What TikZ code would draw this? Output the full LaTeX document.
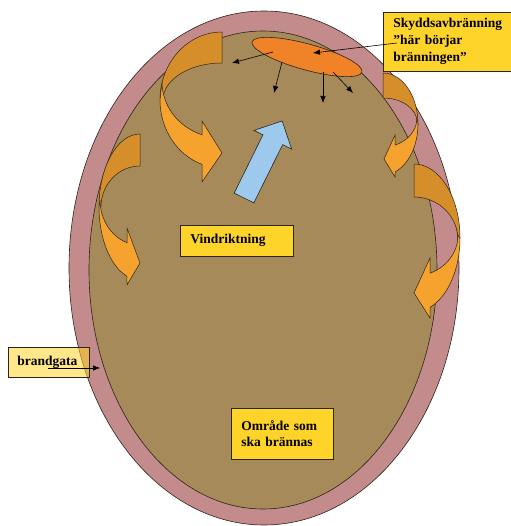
\documentclass[tikz,border=0pt]{standalone}
\usepackage{fontspec}
\setmainfont{Liberation Serif}
\usetikzlibrary{arrows.meta,shapes.geometric}
\definecolor{kant}{HTML}{C48B8D}
\definecolor{markyta}{HTML}{A68A5A}
\definecolor{glod}{HTML}{F08228}
\definecolor{gul}{HTML}{FFD42A}
\definecolor{eldmork}{HTML}{D68E2A}
\definecolor{eldljus}{HTML}{F5A22F}
\definecolor{vind}{HTML}{9DC9ED}
\definecolor{linje}{HTML}{2B2418}

\begin{document}
\begin{tikzpicture}[x=1pt, y=-1pt, >={Latex[length=7pt,width=5.5pt]},
  lbl/.style={draw=linje, line width=0.6pt, fill=gul, anchor=north west,
    align=left, inner ysep=0pt, font=\fontsize{13.5}{17}\selectfont\bfseries},
  pil/.style={->, draw=black, line width=0.6pt},
  eldbak/.style={fill=eldmork, draw=linje, line width=0.5pt},
  eldfram/.style={fill=eldljus, draw=linje, line width=0.5pt}]
  \useasboundingbox (0,0) rectangle (510,526);

  % Brandgata och ytan som ska brannas
  \filldraw[fill=kant, draw=linje, line width=0.6pt] (264,268) ellipse (195 and 257);
  \filldraw[fill=markyta, draw=linje, line width=0.6pt] (263,270) ellipse (174 and 239);

  % Skyddsavbranning -- orange ellips
  \node[ellipse, draw=linje, line width=0.6pt, fill=glod, minimum width=114pt,
    minimum height=26pt, inner sep=0pt, rotate=-15.4] (glod) at (307,57) {};

  % Pilar ut fran skyddsavbranningen
  \coordinate (g1) at (273,52);  \coordinate (p1) at (232,63);
  \coordinate (g2) at (282,62);  \coordinate (p2) at (274,93);
  \coordinate (g3) at (323,72);  \coordinate (p3) at (323,103);
  \coordinate (g4) at (333,72);  \coordinate (p4) at (353,93);
  \draw[pil] (g1) -- (p1);
  \draw[pil] (g2) -- (p2);
  \draw[pil] (g3) -- (p3);
  \draw[pil] (g4) -- (p4);

  % Vindriktning -- bla pil
  \filldraw[fill=vind, draw=linje, line width=0.6pt, shift={(244,198)}, rotate=63.7]
    (0,-11) -- (65,-11) -- (65,-21) -- (86,0) -- (65,21) -- (65,11) -- (0,11) -- cycle;

  % Flammor, uppe till vanster
  \path[eldbak] (222,32) arc[start angle=270, end angle=180, x radius=62, y radius=68]
    -- (163,100) arc[start angle=180, end angle=270, x radius=59, y radius=37] -- cycle;
  \path[eldfram] (160,100) arc[start angle=180, end angle=108.8, x radius=62, y radius=68]
    -- (202,182) -- (222,153) -- (202,121)
    -- (202,134.8) arc[start angle=109.5, end angle=180, x radius=60, y radius=56] -- cycle;

  % Flammor, till vanster
  \path[eldbak] (140,134) arc[start angle=270, end angle=180, x radius=41, y radius=73]
    -- (101,207) arc[start angle=180, end angle=270, x radius=39, y radius=41] -- cycle;
  \path[eldfram] (99,207) arc[start angle=180, end angle=108.5, x radius=41, y radius=73]
    -- (127,285) -- (140,263) -- (127,228)
    -- (127,242.6) arc[start angle=109, end angle=180, x radius=40, y radius=45] -- cycle;

  % Flammor, uppe till hoger
  \path[eldbak] (383,73) arc[start angle=270, end angle=360, x radius=35, y radius=51]
    -- (417,122) arc[start angle=0, end angle=-90, x radius=34, y radius=24] -- cycle;
  \path[eldfram] (418,124) arc[start angle=0, end angle=69.9, x radius=35, y radius=51]
    -- (395,177) -- (384,159) -- (395,135)
    -- (395,145.1) arc[start angle=69.3, end angle=0, x radius=34, y radius=29] -- cycle;

  % Flammor, till hoger
  \path[eldbak] (414,164) arc[start angle=270, end angle=360, x radius=46, y radius=74]
    -- (458,240) arc[start angle=0, end angle=-90, x radius=44, y radius=43] -- cycle;
  \path[eldfram] (460,238) arc[start angle=0, end angle=69.6, x radius=46, y radius=74]
    -- (430,318) -- (414,293) -- (430,258)
    -- (430,273.2) arc[start angle=68.7, end angle=0, x radius=44, y radius=41] -- cycle;

  % Etiketter
  \node[lbl, text width=108pt, inner xsep=10pt, minimum height=59pt] (skydd) at (383,12)
    {Skyddsavbränning\\”här börjar\\bränningen”};
  \node[lbl, text width=93pt, inner xsep=10pt, minimum height=31pt] (vindtext) at (180,225)
    {Vindriktning};
  \node[lbl, fill opacity=0.55, text opacity=1, text width=63pt, inner xsep=9pt,
    minimum height=30pt] (brandgata) at (8,347) {brandgata};
  \node[lbl, text width=82pt, inner xsep=10pt, minimum height=51pt,
    font=\fontsize{13.5}{16.5}\selectfont\bfseries] (omrade) at (231,408)
    {Område som\\ska brännas};

  % Pilar fran etiketterna
  \coordinate (skyddfot) at (397,43);
  \coordinate (glodmal) at (313,53);
  \draw[pil] (skyddfot) -- (glodmal);
  \coordinate (gatafot) at (48,368);
  \coordinate (gatamal) at (100,368);
  \draw[pil] (gatafot) -- (gatamal);
\end{tikzpicture}
\end{document}
